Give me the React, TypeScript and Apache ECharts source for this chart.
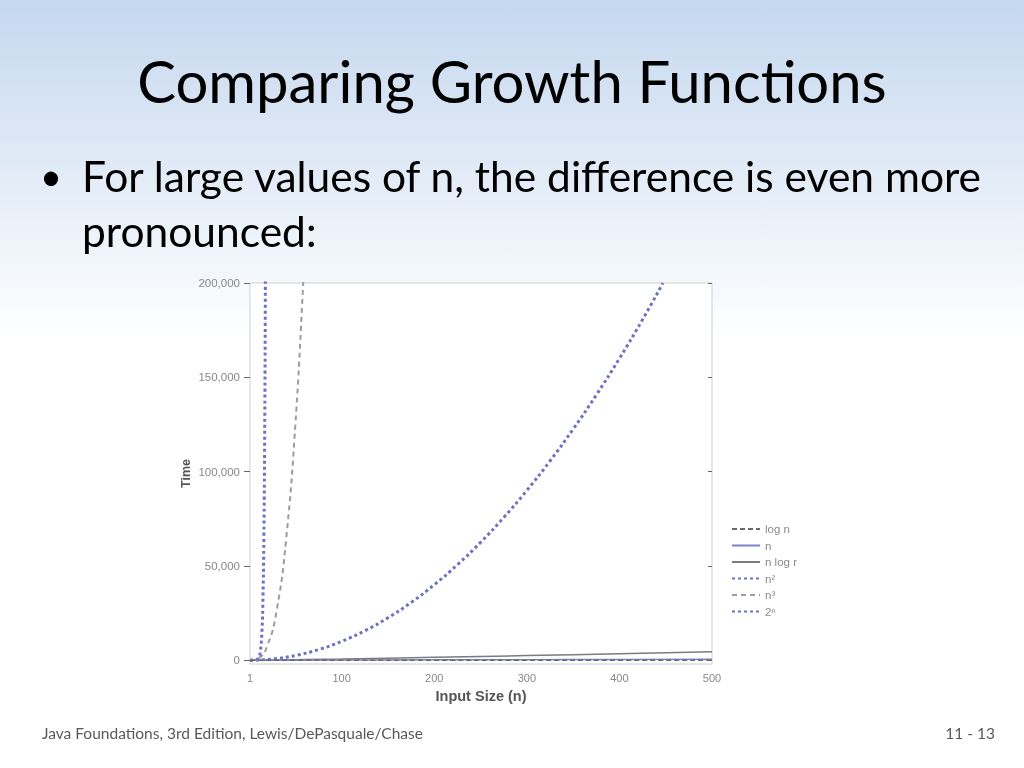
import React, { useEffect, useRef } from "react";
import * as echarts from "echarts";

const titleText = "Comparing Growth Functions";
const bulletLines = ["For large values of n, the difference is even more", "pronounced:"];
const footerLeft = "Java Foundations, 3rd Edition, Lewis/DePasquale/Chase";
const footerRight = "11 - 13";

const xTicks = [1, 100, 200, 300, 400, 500];
const yTicks = [0, 50000, 100000, 150000, 200000];

const seriesNames = ["log n", "n", "n log r", "n²", "n³", "2ⁿ"];

const logNx = [1, 50, 100, 200, 300, 400, 500];
const logNy = [0, 5.6, 6.6, 7.6, 8.2, 8.6, 9];

const linX = [1, 100, 200, 300, 400, 500];
const linY = [1, 100, 200, 300, 400, 500];

const nlognX = [1, 100, 200, 300, 400, 500];
const nlognY = [0, 664, 1529, 2469, 3458, 4483];

const sqX = [1, 25, 50, 75, 100, 125, 150, 175, 200, 225, 250, 275, 300, 325, 350, 375, 400, 425, 447];
const sqY = [1, 625, 2500, 5625, 10000, 15625, 22500, 30625, 40000, 50625, 62500, 75625, 90000, 105625, 122500, 140625, 160000, 180625, 200000];

const cubeX = [1, 10, 20, 30, 40, 50, 58.5, 60];
const cubeY = [1, 1000, 8000, 27000, 64000, 125000, 200000, 216000];

const expX = [1, 5, 10, 12, 14, 15, 16, 17, 17.6, 18];
const expY = [2, 32, 1024, 4096, 16384, 32768, 65536, 131072, 200000, 262144];

const pairs = (xs: number[], ys: number[]) => xs.map((x, i) => [x, ys[i]]);

export default function App() {
  const ref = useRef<HTMLDivElement>(null);
  useEffect(() => {
    if (!ref.current) return;
    const chart = echarts.init(ref.current, null, { renderer: "svg" });
    const blue = "#6d72c3";
    const gray = "#9c9c9c";
    const darkGray = "#7c7c7c";
    const mk = (name: string, data: number[][], color: string, width: number, type: any, z: number) => ({
      name,
      type: "line",
      data,
      symbol: "none",
      smooth: true,
      z,
      lineStyle: { color, width, type },
      itemStyle: { color },
    });
    chart.setOption({
      animation: false,
      textStyle: { fontFamily: "Liberation Sans" },
      graphic: [
        {
          type: "rect",
          z: -10,
          shape: { x: 0, y: 0, width: 1024, height: 768 },
          style: {
            fill: new echarts.graphic.LinearGradient(0, 0, 0, 1, [
              { offset: 0, color: "#c5d8ef" },
              { offset: 0.18, color: "#dce7f5" },
              { offset: 0.34, color: "#f1f6fb" },
              { offset: 0.45, color: "#ffffff" },
              { offset: 1, color: "#ffffff" },
            ]),
          },
        },
        {
          type: "text",
          x: 512,
          y: 80,
          style: { text: titleText, font: "58px Lato", fill: "#000", align: "center", verticalAlign: "middle" },
        },
        {
          type: "text",
          x: 40,
          y: 175,
          style: { text: "•", font: "38px Lato", fill: "#000", verticalAlign: "middle" },
        },
        {
          type: "text",
          x: 82,
          y: 175,
          style: { text: bulletLines[0], font: "42.5px Lato", fill: "#000", verticalAlign: "middle" },
        },
        {
          type: "text",
          x: 82,
          y: 230,
          style: { text: bulletLines[1], font: "42.5px Lato", fill: "#000", verticalAlign: "middle" },
        },
        {
          type: "text",
          x: 42,
          y: 733,
          style: { text: footerLeft, font: "15.5px Lato", fill: "#595959", verticalAlign: "middle" },
        },
        {
          type: "text",
          x: 995,
          y: 733,
          style: { text: footerRight, font: "15.5px Lato", fill: "#595959", verticalAlign: "middle", align: "right" },
        },
      ],
      grid: {
        left: 250,
        right: 312,
        top: 283,
        bottom: 104,
        show: true,
        borderColor: "#cfcfcf",
        borderWidth: 1,
        backgroundColor: "#fff",
      },
      legend: {
        orient: "vertical",
        left: 726,
        top: 518,
        itemWidth: 28,
        itemHeight: 10,
        itemGap: 4.5,
        data: seriesNames,
        itemStyle: { opacity: 0 },
        textStyle: { color: "#8a8a8a", fontSize: 11.5, fontFamily: "Liberation Sans" },
      },
      xAxis: {
        type: "value",
        min: 1,
        max: 500,
        name: "Input Size (n)",
        nameLocation: "middle",
        nameGap: 24,
        nameTextStyle: { color: "#555", fontSize: 14.5, fontWeight: "bold" },
        splitLine: { show: false },
        axisLine: { show: false },
        axisTick: { show: false },
        axisLabel: { customValues: xTicks, color: "#888", fontSize: 11, margin: 8 },
      },
      yAxis: [
        {
          type: "value",
          min: -2000,
          max: 200000,
          name: "Time",
          nameLocation: "middle",
          nameGap: 58,
          nameRotate: 90,
          nameTextStyle: { color: "#555", fontSize: 12.5, fontWeight: "bold" },
          splitLine: { show: false },
          axisLine: { show: false },
          axisTick: { show: true, customValues: yTicks, length: 6, lineStyle: { color: "#666" } },
          axisLabel: {
            customValues: yTicks,
            color: "#888",
            fontSize: 11.5,
            margin: 10,
            formatter: (v: number) => v.toLocaleString("en-US"),
          },
        },
        {
          type: "value",
          position: "right",
          min: -2000,
          max: 200000,
          splitLine: { show: false },
          axisLine: { show: false },
          axisTick: { show: true, inside: true, customValues: yTicks, length: 4, lineStyle: { color: "#666" } },
          axisLabel: { show: false },
        },
      ],
      series: [
        mk(seriesNames[0], pairs(logNx, logNy), "#6a6a6a", 1.5, [5, 3], 6),
        mk(seriesNames[1], pairs(linX, linY), "#7d82c8", 1.5, "solid", 5),
        mk(seriesNames[2], pairs(nlognX, nlognY), darkGray, 1.5, "solid", 4),
        mk(seriesNames[3], pairs(sqX, sqY), blue, 3, [3, 3], 3),
        mk(seriesNames[4], pairs(cubeX, cubeY), gray, 2, [5, 4], 2),
        mk(seriesNames[5], pairs(expX, expY), blue, 3, [3, 3], 3),
      ],
    });
    return () => chart.dispose();
  }, []);
  return <div ref={ref} style={{ position: "fixed", left: 0, top: 0, width: 1024, height: 768 }} />;
}
